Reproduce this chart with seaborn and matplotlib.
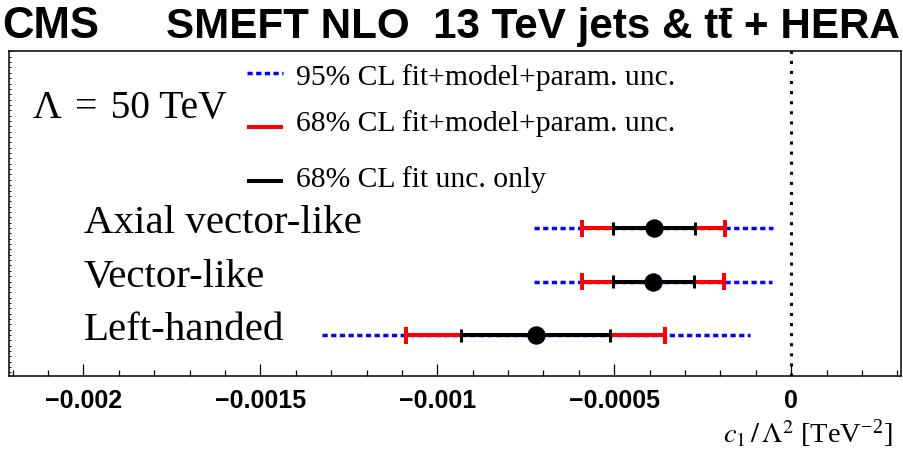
import numpy as np
import pandas as pd
import matplotlib
matplotlib.use("Agg")
import matplotlib.pyplot as plt
import matplotlib.transforms as mtransforms
from matplotlib.lines import Line2D
from matplotlib.ticker import FixedLocator, MultipleLocator
import seaborn as sns

# ---------------- data ----------------
models = ["Axial vector-like", "Vector-like", "Left-handed"]
central = [-0.000389, -0.000392, -0.000721]
fit_lo = [-0.000503, -0.000504, -0.000933]
fit_hi = [-0.000272, -0.000276, -0.000513]
tot68_lo = [-0.000592, -0.000592, -0.001088]
tot68_hi = [-0.000186, -0.000189, -0.000358]
tot95_lo = [-0.000727, -0.000727, -0.001327]
tot95_hi = [-0.0000507, -0.0000535, -0.000118]
rows = [2, 1, 0]
xticks = [-0.002, -0.0015, -0.001, -0.0005, 0.0]
xtick_labels = ["\u22120.002", "\u22120.0015", "\u22120.001", "\u22120.0005", "0"]
legend_labels = ["95% CL fit+model+param. unc.",
                 "68% CL fit+model+param. unc.",
                 "68% CL fit unc. only"]
lambda_label = "\u039b\u2004=\u200450 TeV"
title_left = "CMS"
title_pre = "SMEFT NLO  13 TeV jets & t"
title_bar = "t"
title_post = " + HERA"
xlabel = r"$c_{1}\,/\,\Lambda^{2}$ [TeV$^{\mathregular{-2}}$]"

df = pd.DataFrame({"model": models, "central": central, "row": rows,
                   "fit_lo": fit_lo, "fit_hi": fit_hi,
                   "lo68": tot68_lo, "hi68": tot68_hi,
                   "lo95": tot95_lo, "hi95": tot95_hi})

# ---------------- style ----------------
sns.set_theme(style="white")
plt.rcParams["font.family"] = ["Liberation Serif", "DejaVu Serif"]
plt.rcParams["mathtext.fontset"] = "stix"
plt.rcParams["text.color"] = "black"
plt.rcParams["axes.labelcolor"] = "black"

W, H = 904, 450
AX_L, AX_R, AX_T, AX_B = 9, 901, 51, 376
def fx(px):
    return (px - AX_L) / (AX_R - AX_L)
def fy(py):
    return (AX_B - py) / (AX_B - AX_T)

fig = plt.figure(figsize=(W / 100, H / 100), dpi=100)
fig.patch.set_facecolor("white")
ax = fig.add_axes([AX_L / W, 1 - AX_B / H, (AX_R - AX_L) / W, (AX_B - AX_T) / H])
ax.set_facecolor("white")

ax.set_xlim(-0.00221, 0.00031)
ax.set_ylim(-0.766, 5.308)

px_per_y = (AX_B - AX_T) / (5.308 + 0.766)

# zero line
ax.axvline(0, color="black", lw=2.2, linestyle=(0, (1, 2.3)), zorder=1)

# 95% blue dotted
ax.hlines(df["row"], df["lo95"], df["hi95"], colors="#0000ff",
          linestyles=[(0, (1.5, 1.0))], lw=2.5, zorder=2)
# 68% red
ax.hlines(df["row"], df["lo68"], df["hi68"], colors="#ff0000", lw=2.9, zorder=3)
red_cap = 8.5 / px_per_y
ax.vlines(df["lo68"], df["row"] - red_cap, df["row"] + red_cap, colors="#ff0000", lw=2.9, zorder=3)
ax.vlines(df["hi68"], df["row"] - red_cap, df["row"] + red_cap, colors="#ff0000", lw=2.9, zorder=3)
# fit only black
ax.hlines(df["row"], df["fit_lo"], df["fit_hi"], colors="black", lw=2.9, zorder=4)
blk_cap = 6.5 / px_per_y
ax.vlines(df["fit_lo"], df["row"] - blk_cap, df["row"] + blk_cap, colors="black", lw=2.2, zorder=4)
ax.vlines(df["fit_hi"], df["row"] - blk_cap, df["row"] + blk_cap, colors="black", lw=2.2, zorder=4)
# central points
sns.scatterplot(data=df, x="central", y="row", s=175, color="black",
                edgecolor="black", linewidth=0, zorder=6, ax=ax, legend=False)

# model labels
trans = mtransforms.blended_transform_factory(ax.transAxes, ax.transData)
for _, r in df.iterrows():
    ax.text(fx(84), r["row"] - 5 / px_per_y, r["model"], transform=trans,
            fontsize=29.5, family="Liberation Serif", ha="left", va="baseline",
            color="black")

# legend drawn by hand
leg_line_y = [73, 127, 181]
leg_text_y = [85, 131, 187]
styles = [dict(color="#0000ff", lw=2.5, linestyle=(0, (1.5, 1.0))),
          dict(color="#ff0000", lw=2.9, linestyle="-"),
          dict(color="black", lw=2.9, linestyle="-")]
for lab, ly, ty, st in zip(legend_labels, leg_line_y, leg_text_y, styles):
    ax.plot([fx(247), fx(283)], [fy(ly), fy(ly)], transform=ax.transAxes,
            solid_capstyle="butt", dash_capstyle="butt", **st)
    ax.text(fx(296), fy(ty), lab, transform=ax.transAxes, fontsize=21.3,
            family="Liberation Serif", ha="left", va="baseline", color="black")

ax.text(fx(33), fy(118), lambda_label, transform=ax.transAxes, fontsize=28.5,
        family="Liberation Serif", ha="left", va="baseline", color="black")

# axes / ticks
for s in ax.spines.values():
    s.set_visible(True)
    s.set_color("black")
    s.set_linewidth(1.1)
ax.xaxis.set_major_locator(FixedLocator(xticks))
ax.xaxis.set_minor_locator(MultipleLocator(0.0001))
ax.set_xticklabels(xtick_labels, fontsize=18, fontweight="bold",
                   family="Liberation Sans")
ax.tick_params(axis="x", which="major", direction="in", length=8.6, width=0.9,
               pad=9, bottom=True, top=False, colors="black")
ax.tick_params(axis="x", which="minor", direction="in", length=4.3, width=0.9,
               bottom=True, top=False, colors="black")
ax.yaxis.set_major_locator(MultipleLocator(0.1))
ax.tick_params(axis="y", which="major", direction="in", length=1.5, width=0.7,
               left=True, right=False, labelleft=False, colors="black")
ax.set_xlabel("")
ax.set_ylabel("")

fig.text(893 / W, 1 - 443 / H, xlabel, fontsize=20.5, family="Liberation Serif",
         ha="right", va="baseline", color="black", math_fontfamily="stix")

# title
tkw = dict(fontsize=30.3, fontweight="bold", family="Liberation Sans",
           va="baseline", color="black")
fig.text(2 / W, 1 - 38 / H, title_left, ha="left", **dict(tkw, fontsize=31.5))
full = fig.text(900 / W, 1 - 38 / H, title_pre + title_bar + title_post,
                ha="right", **tkw)
renderer = fig.canvas.get_renderer()
bb_full = full.get_window_extent(renderer)
probe1 = fig.text(0, 0, title_pre, ha="left", **tkw)
probe2 = fig.text(0, 0, title_pre + title_bar, ha="left", **tkw)
w1 = probe1.get_window_extent(renderer).width
w2 = probe2.get_window_extent(renderer).width
probe1.remove()
probe2.remove()
x0 = bb_full.x0 + w1 + 1.5
x1 = bb_full.x0 + w2 - 0.5
ybar = H - 8.5
fig.add_artist(Line2D([x0 / W, x1 / W], [ybar / H, ybar / H],
                      transform=fig.transFigure, color="black", lw=2.3,
                      solid_capstyle="butt"))

fig.savefig("out.png", dpi=100, facecolor="white")
